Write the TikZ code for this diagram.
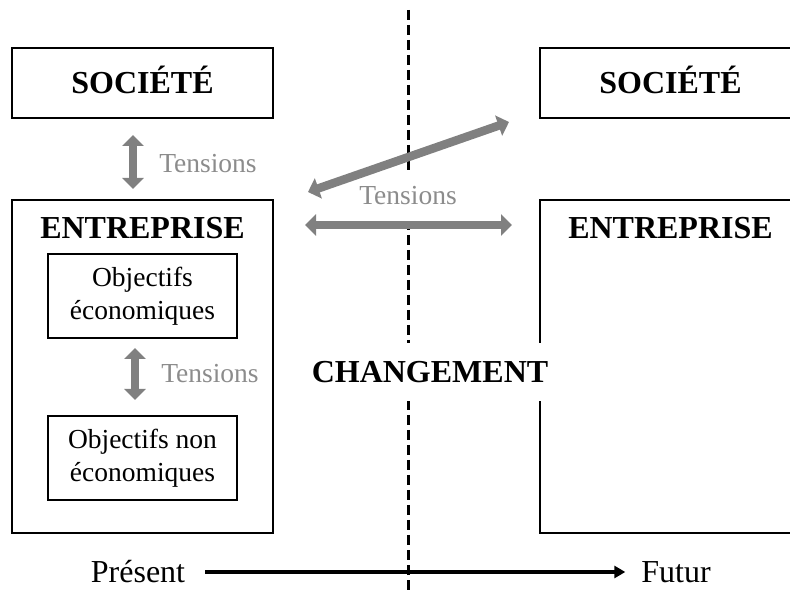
\documentclass[tikz,border=0pt]{standalone}
\usepackage{fontspec}
\setmainfont{Liberation Serif}
\usetikzlibrary{arrows.meta,positioning}

\definecolor{gristension}{RGB}{128,128,128}
\definecolor{gristexte}{RGB}{140,140,140}

\tikzset{
  boite/.style={draw, line width=2pt, outer sep=0pt, inner sep=0pt},
  titre/.style={font=\fontsize{32}{36}\selectfont\bfseries, text height=22pt, text depth=0pt, inner sep=0pt, outer sep=0pt},
  objectif/.style={boite, font=\fontsize{27.5}{33}\selectfont, align=center, minimum width=189pt, minimum height=84pt},
  fleche tension/.style={draw=gristension, line width=8.5pt, {Triangle[length=11pt,width=21pt]}-{Triangle[length=11pt,width=21pt]}},
  tlabel/.style={text=gristexte, font=\fontsize{27.5}{33}\selectfont, inner sep=0pt},
  temps/.style={font=\fontsize{32}{36}\selectfont, text height=21pt, text depth=0pt, inner sep=0pt, outer sep=0pt}
}

\begin{document}
\begin{tikzpicture}[x=1pt,y=1pt]
  \useasboundingbox (0,0) rectangle (790,592);

  \coordinate (haut) at (408,582);
  \coordinate (bas)  at (408,-5);
  \draw[line width=3pt, dash pattern=on 10pt off 5pt] (haut) -- (bas);

  \node[boite, titre, minimum width=261pt, minimum height=70pt] (socL) at (142.5,509) {SOCIÉTÉ};
  \node[boite, minimum width=261pt, minimum height=333pt] (entL) [below=82pt of socL] {};
  \node[titre] (entLtitre) [below=17pt of entL.north] {ENTREPRISE};
  \node[objectif] (obj1) [below=15pt of entLtitre] {Objectifs\\économiques};
  \node[objectif] (obj2) [below=78pt of obj1] {Objectifs non\\économiques};

  \node[boite, titre, minimum width=261pt, minimum height=70pt] (socR) at (670.5,509) {SOCIÉTÉ};
  \node[boite, minimum width=261pt, minimum height=333pt] (entR) [below=82pt of socR] {};
  \node[titre] (entRtitre) [below=17pt of entR.north] {ENTREPRISE};

  \node[tlabel, fill=white, inner xsep=4pt, minimum height=50pt] (tmilieu) at (408,396) {Tensions};
  \node[titre, fill=white, inner xsep=4pt, inner ysep=18pt] (chg) at (430,220) {CHANGEMENT};

  \node[temps] (pres) at (138,20) {Présent};
  \node[temps] (fut)  at (676,20) {Futur};

  \draw[fleche tension, shorten <=17pt, shorten >=11pt] ([xshift=-9.5pt]socL.south) -- node[tlabel, pos=0.55, right=22pt] {Tensions} ([xshift=-9.5pt]entL.north);
  \draw[fleche tension, shorten <=10pt, shorten >=16pt] ([xshift=-7.5pt]obj1.south) -- node[tlabel, pos=0.46, right=22pt] {Tensions} ([xshift=-7.5pt]obj2.north);
  \draw[fleche tension] ([shift={(35pt,8pt)}]entL.north east) -- ([shift={(-31pt,-4pt)}]socR.south west);
  \draw[fleche tension, shorten <=32pt, shorten >=28pt] ([yshift=-25pt]entL.north east) -- ([yshift=-25pt]entR.north west);

  \draw[line width=3.5pt, -{Triangle[length=11pt,width=12pt]}, shorten <=20pt, shorten >=16pt] (pres) -- (fut);
\end{tikzpicture}
\end{document}
